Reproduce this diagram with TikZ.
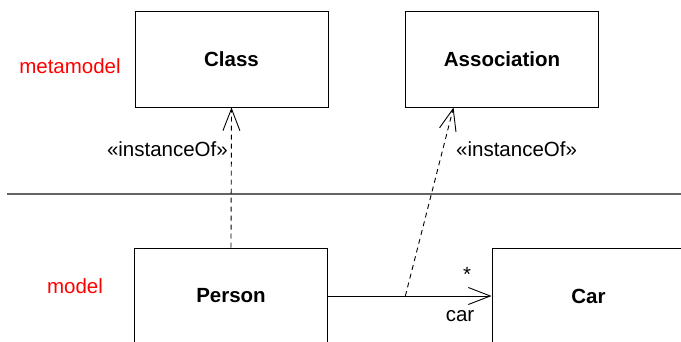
\documentclass[tikz,border=0pt]{standalone}
\usepackage{fontspec}
\setmainfont{Liberation Sans}
\usetikzlibrary{arrows.meta,calc}
\definecolor{labelred}{RGB}{255,0,0}
\definecolor{sepgray}{RGB}{100,100,100}
\tikzset{
  classbox/.style={draw=black,line width=0.9pt,minimum width=193pt,minimum height=96pt,inner sep=0pt,font=\fontsize{20.5}{24}\selectfont\bfseries},
  lbl/.style={font=\fontsize{20.5}{24}\selectfont,inner sep=0pt},
  redlbl/.style={lbl,text=labelred},
  openhead/.style={-{Straight Barb[length=22pt,width=17pt,line width=0.9pt]}},
  inst/.style={dash pattern=on 5pt off 4pt,line width=0.9pt,openhead},
}
\begin{document}
\begin{tikzpicture}[x=1pt,y=-1pt]
\useasboundingbox (0,0) rectangle (681,341);
\fill[white] (0,0) rectangle (681,341);
\node[classbox] (class) at (231.5,59) {Class};
\node[classbox] (assoc) at (502,59) {Association};
\node[classbox] (person) at (231,296) {Person};
\node[classbox] (car) at (588.5,296) {Car};
\node[redlbl] (meta) at (70,66) {metamodel};
\node[redlbl] (model) at (75,286) {model};
\coordinate (sepL) at (7,194);
\coordinate (sepR) at (681,194);
\draw[sepgray,line width=1.2pt] (sepL) -- (sepR);
\draw[line width=0.9pt,openhead] (person.east) -- (car.west);
\coordinate (mid) at ($(person.east)!0.473!(car.west)$);
\coordinate (assoctip) at ($(assoc.south west)!0.25!(assoc.south east)$);
\draw[inst] (person.north) -- (class.south);
\draw[inst] (mid) -- (assoctip);
\node[lbl,anchor=east] (inst1) at (228,149) {«instanceOf»};
\node[lbl,anchor=west] (inst2) at (456,149) {«instanceOf»};
\node[lbl] (star) at (467,274) {*};
\node[lbl] (carlbl) at (460,316) {car};
\end{tikzpicture}
\end{document}
